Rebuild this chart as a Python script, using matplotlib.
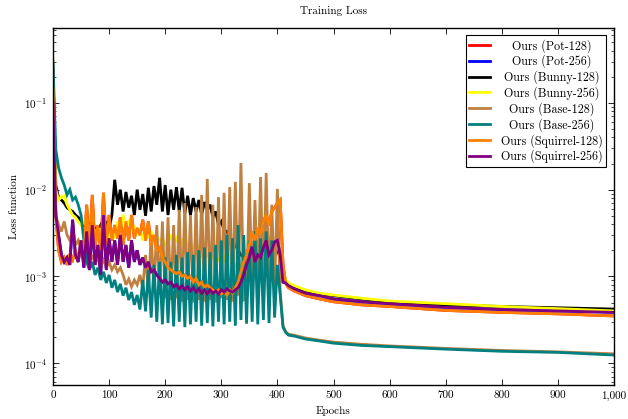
import numpy as np
import matplotlib
matplotlib.use('Agg')
import matplotlib.pyplot as plt
from matplotlib.ticker import FuncFormatter, LogLocator, NullFormatter

# epochs: every 5 epochs through the noisy phase, then sparse points on the smooth tail
epochs = list(range(0, 411, 5)) + [415, 420, 430, 450, 475, 500, 550, 600, 700, 800, 900, 1000]

bunny_128 = [
    0.24, 1.13e-2, 8.0e-3, 7.6e-3, 7.0e-3, 6.2e-3, 5.85e-3, 5.6e-3, 5.1e-3, 4.8e-3,
    4.3e-3, 3.9e-3, 3.6e-3, 3.9e-3, 3.4e-3, 3.6e-3, 3.3e-3, 3.9e-3, 3.4e-3, 4.3e-3,
    3.6e-3, 5.1e-3, 1.30e-2, 6.7e-3, 1.0e-2, 5.6e-3, 9.4e-3, 6.2e-3, 8.5e-3, 5.1e-3,
    1.0e-2, 5.85e-3, 8.9e-3, 5.0e-3, 1.05e-2, 5.6e-3, 1.10e-2, 6.7e-3, 1.37e-2, 5.6e-3,
    1.13e-2, 5.1e-3, 1.0e-2, 5.85e-3, 1.07e-2, 5.6e-3, 1.05e-2, 5.3e-3, 8.5e-3, 5.1e-3,
    8.0e-3, 5.6e-3, 7.6e-3, 5.1e-3, 7.2e-3, 5.85e-3, 6.7e-3, 4.8e-3, 5.6e-3, 3.9e-3,
    4.3e-3, 3.4e-3, 3.3e-3, 2.75e-3, 2.6e-3, 2.3e-3, 2.0e-3, 1.77e-3, 1.65e-3, 1.47e-3,
    1.65e-3, 1.47e-3, 1.77e-3, 1.65e-3, 2.0e-3, 1.83e-3, 2.3e-3, 2.0e-3, 2.3e-3, 2.15e-3,
    2.0e-3, 1.65e-3, 1.13e-3,
    8.8e-4, 8.2e-4, 7.6e-4, 6.8e-4, 6.3e-4, 6.0e-4, 5.5e-4, 5.1e-4, 4.7e-4, 4.5e-4, 4.35e-4, 4.2e-4,
]
bunny_256 = [
    0.24, 1.0e-2, 7.6e-3, 8.2e-3, 8.5e-3, 6.7e-3, 5.85e-3, 5.1e-3, 4.8e-3, 4.3e-3,
    3.9e-3, 4.3e-3, 3.4e-3, 3.6e-3, 3.0e-3, 3.3e-3, 2.75e-3, 3.6e-3, 2.9e-3, 3.3e-3,
    2.6e-3, 3.3e-3, 2.75e-3, 4.3e-3, 3.4e-3, 5.1e-3, 3.6e-3, 4.5e-3, 3.3e-3, 3.9e-3,
    3.0e-3, 3.6e-3, 2.6e-3, 3.4e-3, 2.75e-3, 3.3e-3, 2.5e-3, 2.9e-3, 2.6e-3, 2.75e-3,
    2.3e-3, 2.6e-3, 2.9e-3, 2.4e-3, 2.75e-3, 2.25e-3, 2.6e-3, 2.15e-3, 2.4e-3, 2.0e-3,
    2.25e-3, 1.9e-3, 2.15e-3, 1.77e-3, 2.0e-3, 1.73e-3, 1.9e-3, 1.65e-3, 1.83e-3, 1.55e-3,
    1.73e-3, 1.55e-3, 2.0e-3, 1.65e-3, 1.47e-3, 1.36e-3, 1.47e-3, 1.26e-3, 1.40e-3, 1.19e-3,
    1.47e-3, 1.36e-3, 1.65e-3, 1.47e-3, 1.77e-3, 1.65e-3, 2.0e-3, 1.77e-3, 2.15e-3, 2.0e-3,
    2.3e-3, 1.77e-3, 1.13e-3,
    9.1e-4, 8.4e-4, 7.8e-4, 7.0e-4, 6.4e-4, 6.1e-4, 5.6e-4, 5.2e-4, 4.85e-4, 4.5e-4, 4.25e-4, 4.0e-4,
]
base_128 = [
    0.31, 5.1e-3, 3.9e-3, 3.3e-3, 4.3e-3, 3.0e-3, 2.6e-3, 3.4e-3, 2.3e-3, 2.6e-3,
    2.0e-3, 1.65e-3, 1.9e-3, 1.47e-3, 1.77e-3, 1.36e-3, 1.65e-3, 1.33e-3, 1.55e-3, 1.26e-3,
    1.47e-3, 1.19e-3, 1.36e-3, 1.13e-3, 1.26e-3, 1.04e-3, 8.0e-4, 9.3e-4, 7.6e-4, 9.1e-4,
    8.0e-4, 1.04e-3, 7.4e-4, 1.77e-3, 6.6e-4, 3.0e-3, 7.0e-4, 3.9e-3, 6.1e-4, 4.3e-3,
    5.6e-4, 4.8e-3, 5.35e-4, 3.9e-3, 5.6e-4, 5.85e-3, 5.1e-4, 7.0e-3, 5.35e-4, 5.1e-3,
    5.0e-4, 6.3e-3, 5.35e-4, 8.7e-3, 5.1e-4, 1.33e-2, 5.35e-4, 6.7e-3, 5.0e-4, 8.2e-3,
    5.6e-4, 9.2e-3, 5.35e-4, 1.07e-2, 5.1e-4, 1.23e-2, 6.0e-4, 2.03e-2, 5.35e-4, 5.6e-4,
    1.19e-2, 6.1e-4, 7.6e-3, 6.6e-4, 1.40e-2, 6.6e-4, 1.56e-2, 7.0e-4, 6.7e-3, 7.4e-4,
    1.02e-2, 6.6e-4, 2.7e-4,
    2.3e-4, 2.15e-4, 2.1e-4, 1.95e-4, 1.84e-4, 1.75e-4, 1.65e-4, 1.58e-4, 1.48e-4, 1.4e-4, 1.35e-4, 1.28e-4,
]
base_256 = [
    0.29, 2.9e-2, 1.78e-2, 1.37e-2, 1.13e-2, 8.7e-3, 1.0e-2, 7.6e-3, 8.2e-3, 6.7e-3,
    5.1e-3, 2.6e-3, 1.47e-3, 1.19e-3, 1.47e-3, 1.04e-3, 1.26e-3, 9.1e-4, 1.13e-3, 8.4e-4,
    1.04e-3, 7.4e-4, 9.1e-4, 6.6e-4, 8.2e-4, 6.0e-4, 7.4e-4, 5.35e-4, 6.6e-4, 4.7e-4,
    6.1e-4, 4.15e-4, 9.1e-4, 3.95e-4, 1.19e-3, 3.35e-4, 1.36e-3, 3.0e-4, 1.47e-3, 2.8e-4,
    1.65e-3, 2.9e-4, 1.47e-3, 2.65e-4, 1.77e-3, 3.0e-4, 1.65e-3, 2.6e-4, 1.9e-3, 2.8e-4,
    1.77e-3, 3.0e-4, 2.0e-3, 2.7e-4, 2.15e-3, 2.9e-4, 1.9e-3, 2.65e-4, 2.3e-3, 3.0e-4,
    2.6e-3, 2.8e-4, 3.0e-3, 3.0e-4, 2.75e-3, 2.7e-4, 3.9e-3, 3.15e-4, 3.0e-3, 2.85e-4,
    2.6e-3, 3.0e-4, 3.3e-3, 2.8e-4, 2.75e-3, 3.15e-4, 3.3e-3, 2.9e-4, 2.6e-3, 3.35e-4,
    1.36e-3, 6.1e-4, 2.6e-4,
    2.25e-4, 2.1e-4, 2.05e-4, 1.9e-4, 1.8e-4, 1.7e-4, 1.6e-4, 1.55e-4, 1.45e-4, 1.37e-4, 1.33e-4, 1.24e-4,
]
squirrel_128 = [
    0.15, 5.1e-3, 2.0e-3, 1.47e-3, 1.65e-3, 1.36e-3, 1.77e-3, 1.55e-3, 2.0e-3, 1.47e-3,
    2.6e-3, 1.77e-3, 6.7e-3, 2.0e-3, 8.7e-3, 2.15e-3, 3.9e-3, 2.0e-3, 9.2e-3, 2.3e-3,
    5.1e-3, 2.6e-3, 3.9e-3, 2.75e-3, 4.8e-3, 2.3e-3, 4.3e-3, 2.6e-3, 5.1e-3, 2.75e-3,
    3.6e-3, 3.0e-3, 4.5e-3, 2.6e-3, 4.3e-3, 2.3e-3, 3.0e-3, 2.0e-3, 2.15e-3, 1.65e-3,
    1.47e-3, 1.26e-3, 1.19e-3, 1.13e-3, 1.08e-3, 1.13e-3, 1.0e-3, 1.04e-3, 9.5e-4, 1.0e-3,
    8.6e-4, 9.5e-4, 8.0e-4, 8.6e-4, 7.4e-4, 8.0e-4, 7.4e-4, 7.0e-4, 6.6e-4, 7.0e-4,
    6.3e-4, 6.6e-4, 6.1e-4, 7.0e-4, 6.4e-4, 7.4e-4, 8.6e-4, 1.13e-3, 1.47e-3, 1.77e-3,
    2.3e-3, 3.3e-3, 2.6e-3, 3.6e-3, 3.0e-3, 4.3e-3, 5.1e-3, 3.9e-3, 5.6e-3, 6.2e-3,
    7.0e-3, 7.6e-3, 1.36e-3,
    8.2e-4, 7.4e-4, 6.8e-4, 6.0e-4, 5.5e-4, 5.1e-4, 4.7e-4, 4.5e-4, 4.05e-4, 3.85e-4, 3.7e-4, 3.5e-4,
]
squirrel_256 = [
    0.10, 5.1e-3, 3.0e-3, 1.77e-3, 1.47e-3, 1.65e-3, 1.36e-3, 4.5e-3, 1.77e-3, 1.47e-3,
    2.6e-3, 1.26e-3, 3.3e-3, 1.19e-3, 3.9e-3, 1.36e-3, 2.3e-3, 1.04e-3, 5.1e-3, 1.19e-3,
    2.75e-3, 1.47e-3, 2.6e-3, 1.36e-3, 3.0e-3, 1.47e-3, 2.3e-3, 1.26e-3, 2.6e-3, 1.47e-3,
    2.0e-3, 1.36e-3, 1.65e-3, 1.26e-3, 1.47e-3, 1.13e-3, 1.19e-3, 1.04e-3, 9.5e-4, 8.6e-4,
    9.1e-4, 8.2e-4, 8.6e-4, 7.6e-4, 8.0e-4, 7.2e-4, 7.8e-4, 7.0e-4, 7.6e-4, 6.8e-4,
    7.4e-4, 6.6e-4, 7.2e-4, 6.4e-4, 7.0e-4, 6.3e-4, 7.0e-4, 6.4e-4, 6.8e-4, 6.3e-4,
    7.0e-4, 6.6e-4, 7.2e-4, 6.8e-4, 6.6e-4, 7.0e-4, 7.4e-4, 8.6e-4, 1.04e-3, 1.36e-3,
    1.65e-3, 2.2e-3, 1.47e-3, 1.77e-3, 1.65e-3, 2.15e-3, 2.6e-3, 1.77e-3, 2.0e-3, 2.5e-3,
    2.6e-3, 1.77e-3, 8.6e-4,
    8.4e-4, 7.8e-4, 7.2e-4, 6.4e-4, 6.0e-4, 5.5e-4, 5.1e-4, 4.85e-4, 4.4e-4, 4.15e-4, 4.0e-4, 3.85e-4,
]
# the Pot curves sit completely underneath the Squirrel curves in the figure
pot_128 = list(squirrel_128)
pot_256 = list(squirrel_256)

labels = ['Ours (Pot-128)', 'Ours (Pot-256)', 'Ours (Bunny-128)', 'Ours (Bunny-256)',
          'Ours (Base-128)', 'Ours (Base-256)', 'Ours (Squirrel-128)', 'Ours (Squirrel-256)']
colors = ['#ff0000', '#0000ff', '#000000', '#ffff00', '#bf8040', '#008080', '#ff8000', '#800080']
series = [pot_128, pot_256, bunny_128, bunny_256, base_128, base_256, squirrel_128, squirrel_256]

plt.rcParams['font.family'] = 'cmr10'
plt.rcParams['mathtext.fontset'] = 'cm'
plt.rcParams['axes.formatter.use_mathtext'] = True
plt.rcParams['axes.unicode_minus'] = False
plt.rcParams['font.size'] = 8

fig = plt.figure(figsize=(6.28, 4.19), dpi=100)
ax = fig.add_axes([53/628, 1-385/419, (614-53)/628, (385-28)/419])

for ys, c, lab in zip(series, colors, labels):
    ax.plot(epochs, ys, color=c, lw=2.0, label=lab, solid_joinstyle='miter')

ax.set_yscale('log')
ax.set_xlim(0, 1000)
ax.set_ylim(5.6e-5, 0.73)
ax.set_xticks(range(0, 1001, 100))
ax.xaxis.set_major_formatter(FuncFormatter(lambda v, p: f'{int(v):,}'))
ax.yaxis.set_major_locator(LogLocator(base=10, numticks=10))
ax.yaxis.set_minor_locator(LogLocator(base=10, subs=np.arange(2, 10), numticks=20))
ax.yaxis.set_minor_formatter(NullFormatter())
ax.tick_params(which='both', direction='in', top=True, right=True, labelsize=8, pad=4)
ax.tick_params(which='major', length=4, width=0.6)
ax.tick_params(which='minor', length=2.2, width=0.5)
for s in ax.spines.values():
    s.set_linewidth(1.0)

ax.set_title('Training Loss', fontsize=8, pad=10)
ax.set_xlabel('Epochs', fontsize=8, labelpad=4)
ax.set_ylabel('Loss function', fontsize=8, labelpad=4)

leg = ax.legend(loc='upper right', bbox_to_anchor=(0.986, 0.980), borderaxespad=0,
                fancybox=False, framealpha=1, edgecolor='black', handlelength=1.7,
                handletextpad=0.9, labelspacing=0.17, borderpad=0.3, fontsize=8.7)
leg.get_frame().set_linewidth(0.8)

# centre the legend texts like pgfplots does
fig.canvas.draw()
r = fig.canvas.get_renderer()
ws = [t.get_window_extent(r).width for t in leg.get_texts()]
for t, w in zip(leg.get_texts(), ws):
    t.set_position(((max(ws) - w) / 2, 0))

fig.savefig('out.png', dpi=100)
